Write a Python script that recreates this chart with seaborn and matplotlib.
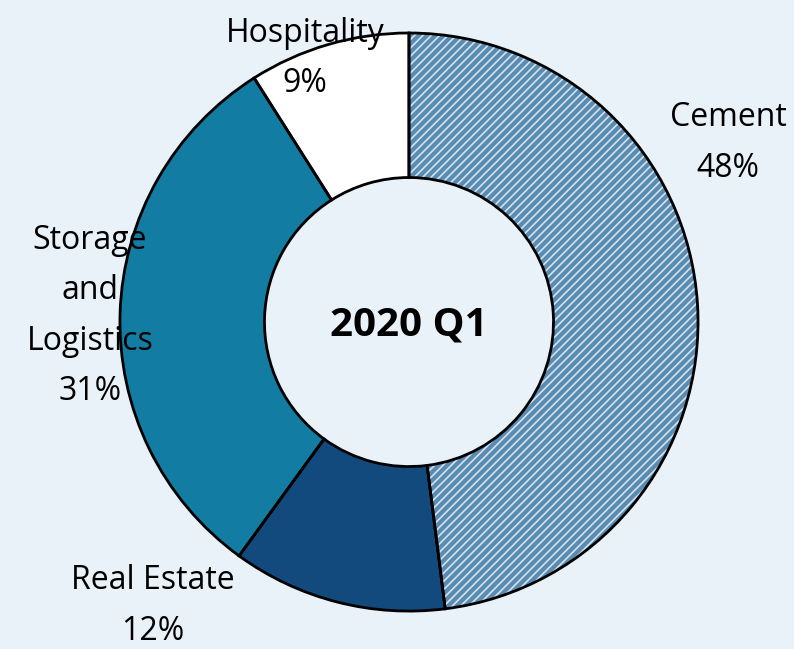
"""
Donut chart: 2020 Q1 breakdown by sector.
"""

import matplotlib.pyplot as plt
import seaborn as sns

# data
sectors = ["Cement", "Real Estate", "Storage\nand\nLogistics", "Hospitality"]
shares = [48, 12, 31, 9]
colors = ["#5A8BB0", "#134A7D", "#137CA2", "#FFFFFF"]
hatches = ["////", None, None, None]
center_title = "2020 Q1"

# label layout (data coords, pie radius = 1)
label_pos = [(1.104, 0.62), (-0.886, -0.983), (-1.104, 0.021), (-0.36, 0.912)]

sns.set_theme(style="white")
plt.rcParams["font.family"] = ["Open Sans", "DejaVu Sans"]
plt.rcParams["hatch.linewidth"] = 1.2

bg = "#E9F1F9"
fig = plt.figure(figsize=(7.94, 6.49), dpi=100, facecolor=bg)
ax = fig.add_axes([0, 0, 1, 1])
ax.set_facecolor(bg)

# fill + hatch (hatch takes the edge color, so light edges here)
wedges, _ = ax.pie(
    shares,
    colors=colors,
    startangle=90,
    counterclock=False,
    radius=1,
    wedgeprops=dict(width=0.5, edgecolor="#D3E3F2", linewidth=0),
)
for w, h in zip(wedges, hatches):
    if h:
        w.set_hatch(h)

# black outlines on top
ax.pie(
    shares,
    colors=["none"] * len(shares),
    startangle=90,
    counterclock=False,
    radius=1,
    wedgeprops=dict(width=0.5, edgecolor="black", linewidth=2, facecolor="none"),
)

for name, val, (x, y) in zip(sectors, shares, label_pos):
    ax.text(x, y, f"{name}\n{val}%", ha="center", va="center",
            fontsize=23, linespacing=1.7, color="black")

ax.text(0, -0.01, center_title, ha="center", va="center",
        fontsize=29, fontweight="bold", color="black")

ax.set_xlim(-1.415, 1.332)
ax.set_ylim(-1.131, 1.114)
ax.set_aspect("equal")
ax.axis("off")

fig.savefig("out.png", dpi=100, facecolor=bg)
